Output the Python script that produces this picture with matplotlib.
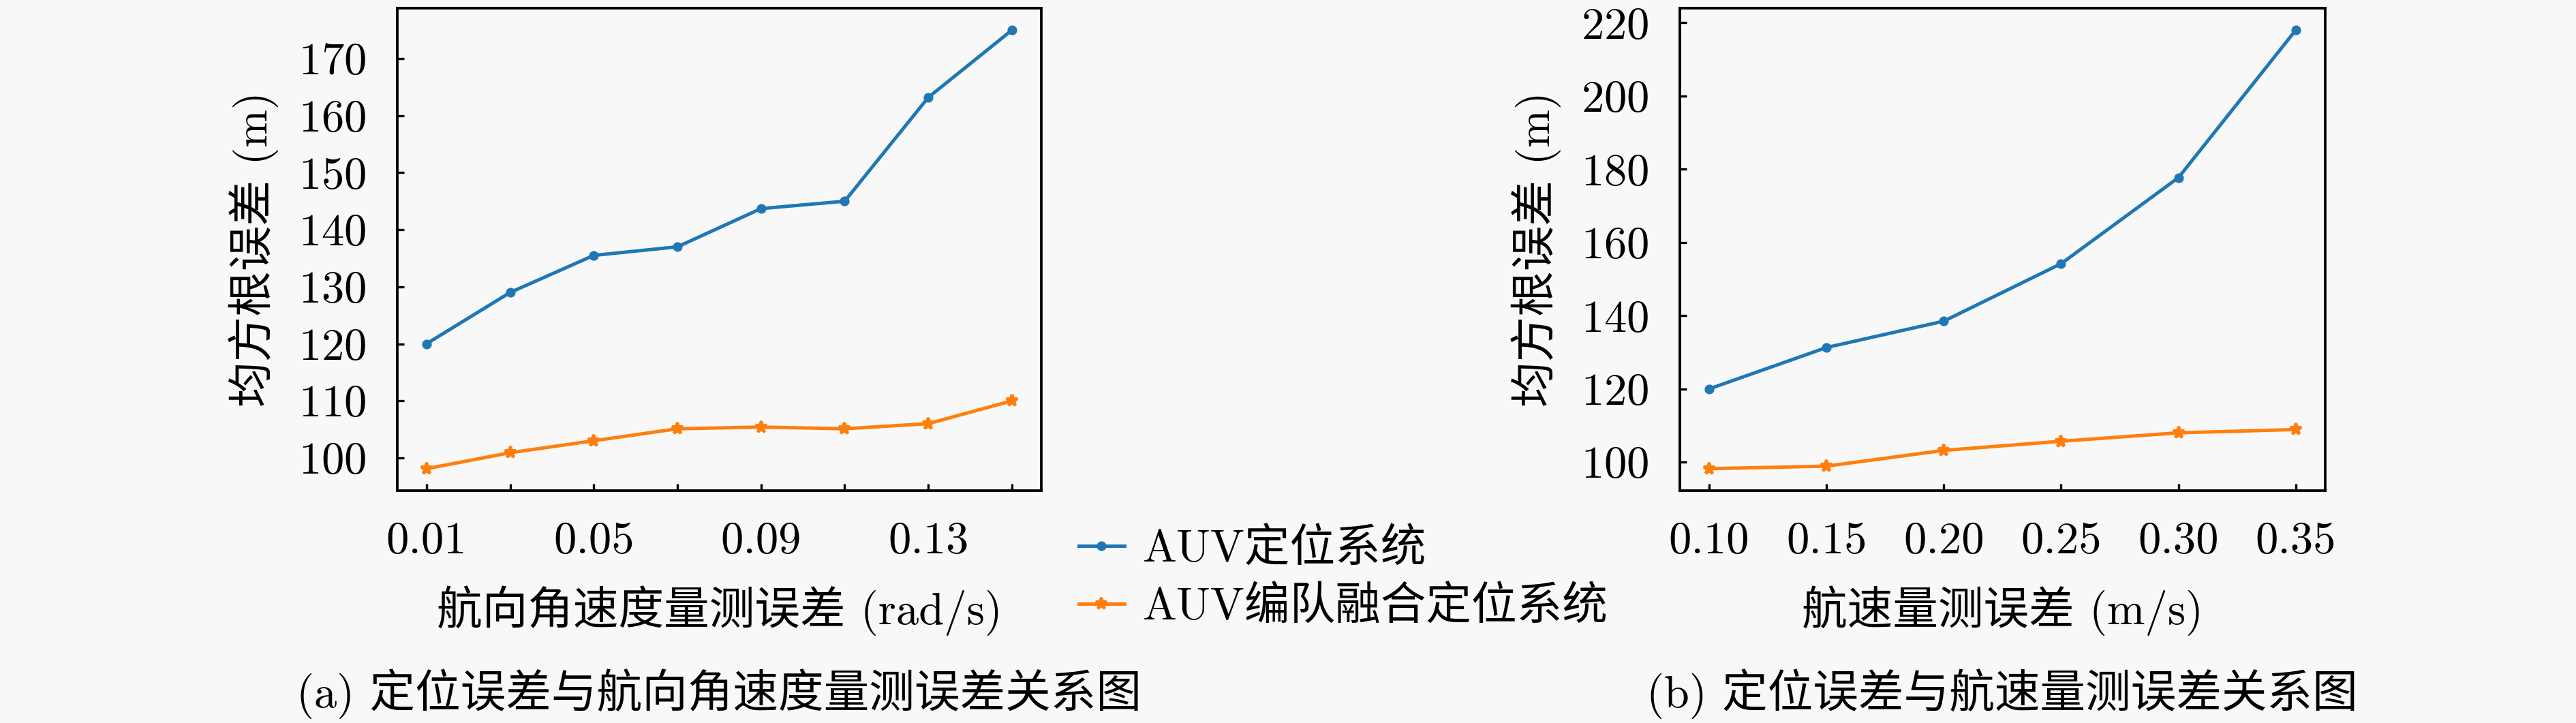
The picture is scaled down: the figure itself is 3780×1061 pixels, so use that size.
import matplotlib
matplotlib.use("Agg")
import matplotlib.pyplot as plt

plt.rcParams["font.family"] = ["cmr10", "Noto Sans CJK SC", "DejaVu Serif"]
plt.rcParams["mathtext.fontset"] = "cm"
plt.rcParams["axes.formatter.use_mathtext"] = True

BG = "#f8f8f8"
BLUE = "#1f77b4"
ORANGE = "#ff7f0e"

# (a) heading angular-rate measurement error
yaw_err = [0.01, 0.03, 0.05, 0.07, 0.09, 0.11, 0.13, 0.15]
yaw_auv = [120.0, 129.0, 135.5, 137.0, 143.7, 145.0, 163.2, 175.0]
yaw_fused = [98.1, 100.9, 103.0, 105.1, 105.4, 105.1, 106.0, 110.0]
yaw_ticklabels = ["0.01", "", "0.05", "", "0.09", "", "0.13", ""]
yaw_yticks = [100, 110, 120, 130, 140, 150, 160, 170]

# (b) speed measurement error
spd_err = [0.10, 0.15, 0.20, 0.25, 0.30, 0.35]
spd_auv = [120.0, 131.3, 138.5, 154.2, 177.7, 218.0]
spd_fused = [98.2, 98.9, 103.2, 105.7, 108.0, 108.9]
spd_ticklabels = ["0.10", "0.15", "0.20", "0.25", "0.30", "0.35"]
spd_yticks = [100, 120, 140, 160, 180, 200, 220]

labels = ["AUV定位系统", "AUV编队融合定位系统"]

fig = plt.figure(figsize=(12.6, 3.5367), dpi=300, facecolor=BG)
ax1 = fig.add_axes([0.1542, 0.3214, 0.2500, 0.6673])
ax2 = fig.add_axes([0.6521, 0.3214, 0.2505, 0.6673])


def draw_panel(ax, x, y_auv, y_fused, xticklabels, yticks, xlabel):
    ax.set_facecolor(BG)
    ax.plot(x, y_auv, color=BLUE, lw=1.2, marker="o", ms=2.4, label=labels[0])
    ax.plot(x, y_fused, color=ORANGE, lw=1.2, marker="*", ms=4.2, label=labels[1])
    ax.set_xticks(x)
    ax.set_xticklabels(xticklabels)
    ax.set_yticks(yticks)
    ax.tick_params(direction="in", length=2.5, width=0.8, labelsize=16, pad=11)
    for s in ax.spines.values():
        s.set_linewidth(0.9)
    ax.set_ylabel("均方根误差 (m)", fontsize=16, labelpad=7)
    ax.set_xlabel(xlabel, fontsize=16, labelpad=8)


draw_panel(ax1, yaw_err, yaw_auv, yaw_fused, yaw_ticklabels, yaw_yticks,
           "航向角速度量测误差 (rad/s)")
draw_panel(ax2, spd_err, spd_auv, spd_fused, spd_ticklabels, spd_yticks,
           "航速量测误差 (m/s)")

handles, hl = ax1.get_legend_handles_labels()
fig.legend(handles, hl, loc="center left", bbox_to_anchor=(0.4188, 0.1998),
           frameon=False, fontsize=16, handlelength=1.0, handletextpad=0.4,
           borderpad=0, borderaxespad=0, labelspacing=0.35)

fig.text(0.2792, 0.04, "(a) 定位误差与航向角速度量测误差关系图", fontsize=16,
         ha="center", va="center")
fig.text(0.7773, 0.04, "(b) 定位误差与航速量测误差关系图", fontsize=16,
         ha="center", va="center")

fig.savefig("out.png", dpi=300, facecolor=BG)
